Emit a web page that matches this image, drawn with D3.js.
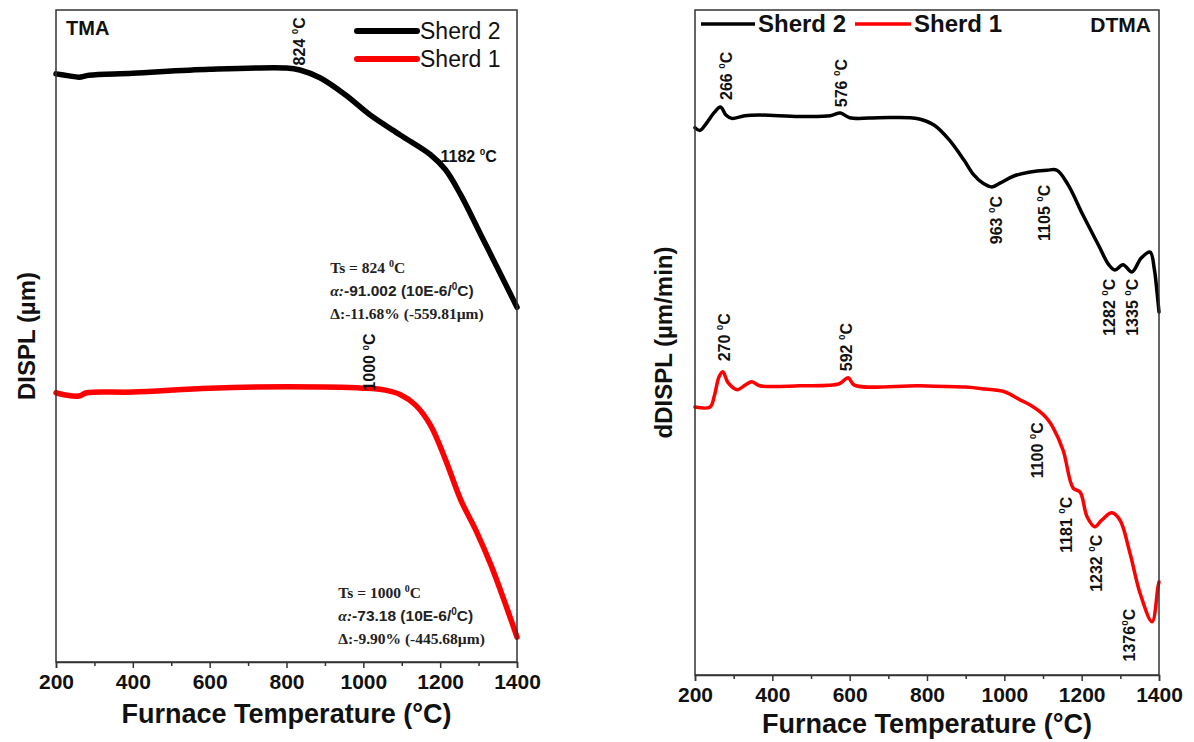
<!DOCTYPE html>
<html>
<head>
<meta charset="utf-8">
<script src="https://cdn.jsdelivr.net/npm/d3@7"></script>
<style>
body { margin: 0; background: #fff; }
svg { display: block; font-family: "Liberation Sans", Arial, sans-serif; }
</style>
</head>
<body>
<script>
// TMA (left) - relative displacement, arbitrary units
var tmaTemp2 = [200, 234, 260, 286, 400, 600, 800, 835, 887, 953, 1018, 1097, 1175, 1214, 1254, 1306, 1358, 1400];
var tmaSherd2 = [90.2, 89.9, 89.7, 90.0, 90.3, 90.9, 91.1, 90.8, 89.6, 87.0, 83.9, 80.8, 77.8, 75.5, 71.6, 65.5, 59.4, 54.4];
var tmaTemp1 = [200, 230, 260, 280, 400, 600, 800, 1000, 1057, 1097, 1136, 1175, 1214, 1254, 1293, 1332, 1371, 1400];
var tmaSherd1 = [41.3, 40.9, 40.8, 41.3, 41.4, 42.0, 42.2, 42.0, 41.7, 41.0, 39.4, 36.3, 31.0, 24.8, 20.2, 14.9, 8.7, 3.8];

// DTMA (right) - derivative, arbitrary units
var dtmaTemp2 = [200, 213, 230, 250, 266, 280, 295, 329, 367, 470, 550, 576, 600, 676, 754, 780, 818, 857, 896, 921, 946, 968, 990, 1023, 1063, 1110, 1136, 1165, 1203, 1243, 1270, 1286, 1307, 1330, 1354, 1377, 1388, 1395, 1400];
var dtmaSherd2 = [82.3, 81.9, 83.0, 84.6, 85.4, 84.2, 83.7, 84.1, 84.2, 84.0, 84.1, 84.5, 83.8, 83.8, 83.8, 83.6, 82.7, 80.5, 77.4, 75.2, 73.9, 73.4, 74.0, 75.0, 75.6, 75.9, 75.9, 73.7, 69.2, 64.7, 61.7, 60.9, 61.7, 60.6, 62.7, 63.6, 61.0, 57.5, 54.6];
var dtmaTemp1 = [200, 239, 250, 262, 272, 285, 309, 330, 347, 367, 470, 573, 596, 612, 780, 900, 950, 1000, 1040, 1070, 1092, 1110, 1126, 1152, 1178, 1196, 1214, 1234, 1252, 1278, 1299, 1325, 1351, 1382, 1397, 1400];
var dtmaSherd1 = [40.3, 40.3, 42.0, 44.8, 45.6, 44.0, 42.9, 43.6, 44.1, 43.5, 43.5, 43.8, 44.7, 43.6, 43.5, 43.3, 43.0, 42.6, 41.4, 40.5, 39.6, 38.6, 37.2, 33.8, 28.1, 27.5, 23.8, 22.3, 23.3, 24.4, 23.3, 18.3, 12.3, 8.0, 13.1, 14.0];

var majorTicks = [200, 400, 600, 800, 1000, 1200, 1400];
var minorTicks = [300, 500, 700, 900, 1100, 1300];

// peak labels: [temperature text, anchor temp, anchor value]
var tmaLabels = [['824 ', 848, 95.2], ['1000 ', 1031, 46.0]];
var dtmaLabels = [['266 ', 296, 90.1], ['576 ', 593, 89.0], ['963 ', 994, 68.4], ['1105 ', 1118, 69.5],
	['1282 ', 1286, 55.3], ['1335 ', 1346, 55.3], ['270 ', 290, 50.8], ['592 ', 606, 49.3],
	['1100 ', 1100, 33.8], ['1181 ', 1175, 22.6], ['1232 ', 1252, 16.8], ['1376', 1338, 6.0]];

var svg = d3.select('body').append('svg').attr('width', 1194).attr('height', 742);

function degText(g, x, y, num, rotate, size) {
	var t = g.append('text')
		.attr('transform', 'translate(' + x + ',' + y + ')' + (rotate ? ' rotate(-90)' : ''))
		.attr('text-anchor', rotate ? 'middle' : 'start')
		.style('font-size', size + 'px').style('font-weight', 'bold').attr('fill', '#111');
	t.append('tspan').text(num);
	t.append('tspan').text('0').style('font-size', (size * 0.62) + 'px').attr('dy', -size * 0.42);
	t.append('tspan').text('C').attr('dy', size * 0.42);
	return t;
}

function drawPanel(p) {
	var x = d3.scaleLinear().domain([200, 1400]).range([p.left, p.right]);
	var y = d3.scaleLinear().domain([0, 100]).range([p.bottom, p.top]);
	var g = svg.append('g');

	var line = d3.line().curve(d3.curveCatmullRom.alpha(0.5))
		.x(function(d) { return x(d[0]); })
		.y(function(d) { return y(d[1]); });

	p.series.forEach(function(s) {
		g.append('path')
			.datum(d3.zip(s.t, s.v))
			.attr('d', line)
			.attr('fill', 'none')
			.attr('stroke', s.color)
			.attr('stroke-width', p.lw)
			.attr('stroke-linejoin', 'round')
			.attr('stroke-linecap', 'round');
	});

	// frame
	g.append('rect')
		.attr('x', p.left).attr('y', p.top)
		.attr('width', p.right - p.left).attr('height', p.bottom - p.top)
		.attr('fill', 'none').attr('stroke', '#333').attr('stroke-width', 1.5);

	var ax = g.append('g').attr('transform', 'translate(0,' + p.bottom + ')')
		.call(d3.axisBottom(x).tickValues(majorTicks).tickSize(6).tickPadding(6).tickFormat(d3.format('d')));
	ax.select('.domain').attr('stroke', '#333').attr('stroke-width', 1.5);
	ax.selectAll('.tick line').attr('stroke', '#333').attr('stroke-width', 1.5);
	ax.selectAll('text').style('font-size', '21px').style('font-weight', 'bold').attr('fill', '#111')
		.style('font-family', '"Liberation Sans", Arial, sans-serif');

	var mx = g.append('g').attr('transform', 'translate(0,' + p.bottom + ')')
		.call(d3.axisBottom(x).tickValues(minorTicks).tickSize(4).tickFormat(''));
	mx.select('.domain').remove();
	mx.selectAll('.tick line').attr('stroke', '#333').attr('stroke-width', 1.5);

	g.append('text')
		.attr('x', (p.left + p.right) / 2).attr('y', p.bottom + p.titleDy)
		.attr('text-anchor', 'middle')
		.style('font-size', '27px').style('font-weight', 'bold').attr('fill', '#111')
		.text('Furnace Temperature (\u00B0C)');

	g.append('text')
		.attr('transform', 'translate(' + p.ylabX + ',' + ((p.top + p.bottom) / 2) + ') rotate(-90)')
		.attr('text-anchor', 'middle')
		.style('font-size', '24px').style('font-weight', 'bold').attr('fill', '#111')
		.text(p.ylabel);

	p.labels.forEach(function(l) {
		degText(g, x(l[1]), y(l[2]), l[0], true, 16);
	});

	return { g: g, x: x, y: y };
}

// ---- left: TMA ----
var left = drawPanel({
	left: 56, right: 517, top: 10, bottom: 662, lw: 5.5, ylabX: 35, titleDy: 61,
	ylabel: 'DISPL (\u00B5m)',
	series: [{ t: tmaTemp2, v: tmaSherd2, color: '#000' }, { t: tmaTemp1, v: tmaSherd1, color: '#ff0000' }],
	labels: tmaLabels
});

left.g.append('text').attr('x', 66).attr('y', 35)
	.style('font-size', '20px').style('font-weight', 'bold').attr('fill', '#111').text('TMA');

degText(left.g, left.x(1201), left.y(76.7), '1182 ', false, 16);

[['Sherd 2', '#000', 31], ['Sherd 1', '#ff0000', 59]].forEach(function(d) {
	left.g.append('line').attr('x1', 357).attr('x2', 417).attr('y1', d[2]).attr('y2', d[2])
		.attr('stroke', d[1]).attr('stroke-width', 6).attr('stroke-linecap', 'round');
	left.g.append('text').attr('x', 420).attr('y', d[2] + 8)
		.style('font-size', '23px').attr('fill', '#111').text(d[0]);
});

function annot(g, x0, y0, ts, alpha, delta) {
	var f = { serif: '"Liberation Serif", "Times New Roman", serif', sans: '"Liberation Sans", Arial, sans-serif' };
	var t1 = g.append('text').attr('x', x0).attr('y', y0).style('font-family', f.serif)
		.style('font-size', '15.5px').style('font-weight', 'bold').attr('fill', '#222');
	t1.append('tspan').text('Ts = ' + ts + ' ');
	t1.append('tspan').text('0').style('font-size', '10px').attr('dy', -6);
	t1.append('tspan').text('C').attr('dy', 6);
	var t2 = g.append('text').attr('x', x0).attr('y', y0 + 23)
		.style('font-size', '15.5px').style('font-weight', 'bold').attr('fill', '#222');
	t2.append('tspan').text('\u03B1:').style('font-family', f.serif).style('font-style', 'italic');
	t2.append('tspan').text(alpha + ' (10E-6/').style('font-family', f.sans);
	t2.append('tspan').text('0').style('font-size', '10px').attr('dy', -6).style('font-family', f.sans);
	t2.append('tspan').text('C)').attr('dy', 6).style('font-family', f.sans);
	g.append('text').attr('x', x0).attr('y', y0 + 46).style('font-family', f.serif)
		.style('font-size', '15.5px').style('font-weight', 'bold').attr('fill', '#222')
		.text('\u0394:' + delta);
}

annot(left.g, left.x(914), left.y(59.7), '824', '-91.002', '-11.68% (-559.81\u00B5m)');
annot(left.g, left.x(935), left.y(9.8), '1000', '-73.18', '-9.90% (-445.68\u00B5m)');

// ---- right: DTMA ----
var right = drawPanel({
	left: 695, right: 1159, top: 10, bottom: 675, lw: 3.5, ylabX: 672, titleDy: 58,
	ylabel: 'dDISPL (\u00B5m/min)',
	series: [{ t: dtmaTemp2, v: dtmaSherd2, color: '#000' }, { t: dtmaTemp1, v: dtmaSherd1, color: '#ff0000' }],
	labels: dtmaLabels
});

right.g.append('line').attr('x1', 701).attr('x2', 755).attr('y1', 24).attr('y2', 24)
	.attr('stroke', '#000').attr('stroke-width', 3.5);
right.g.append('text').attr('x', 758).attr('y', 32)
	.style('font-size', '24px').style('font-weight', 'bold').attr('fill', '#111').text('Sherd 2');
right.g.append('line').attr('x1', 855).attr('x2', 911).attr('y1', 24).attr('y2', 24)
	.attr('stroke', '#ff0000').attr('stroke-width', 3.5);
right.g.append('text').attr('x', 914).attr('y', 32)
	.style('font-size', '24px').style('font-weight', 'bold').attr('fill', '#111').text('Sherd 1');
right.g.append('text').attr('x', 1151).attr('y', 32).attr('text-anchor', 'end')
	.style('font-size', '21px').style('font-weight', 'bold').attr('fill', '#111').text('DTMA');
</script>
</body>
</html>
